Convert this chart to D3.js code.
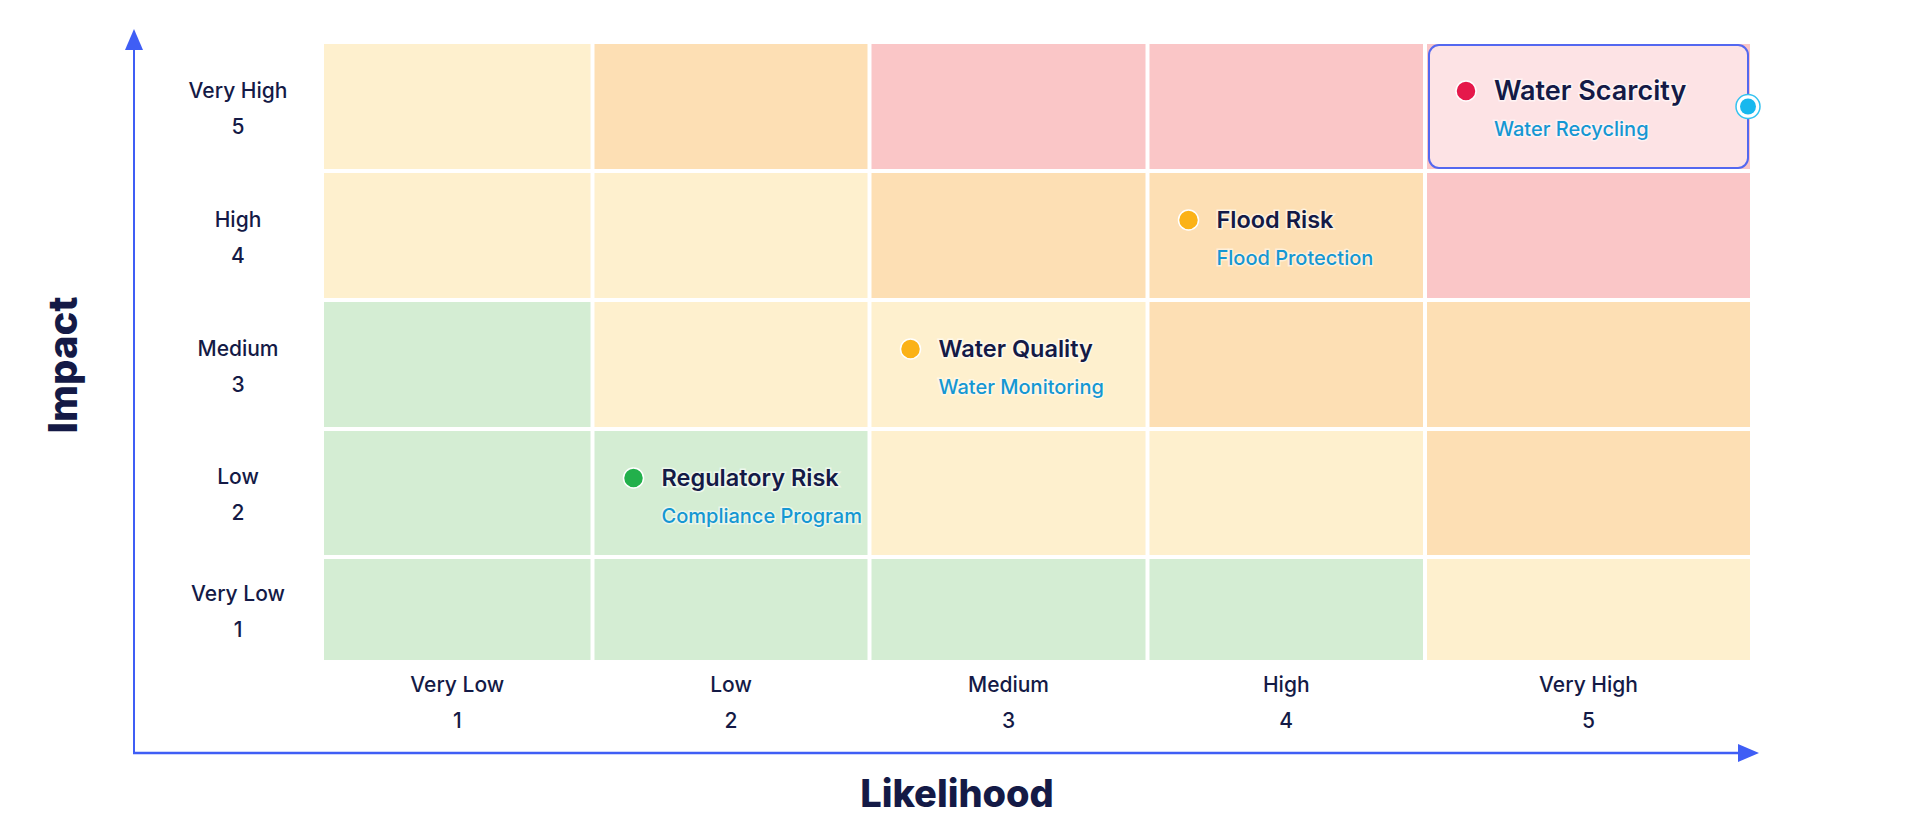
<!DOCTYPE html>
<html>
<head>
<meta charset="utf-8">
<script src="https://cdn.jsdelivr.net/npm/d3@7"></script>
<style>
  html, body { margin: 0; padding: 0; background: #ffffff; }
  svg { display: block; font-family: Inter, "Open Sans", sans-serif; }
</style>
</head>
<body>
<div id="chart"></div>
<script>
const width = 1905;
const height = 825;

// data
const levels = [1, 2, 3, 4, 5];
const likelihoodLabels = ["Very Low", "Low", "Medium", "High", "Very High"];
const impactLabels = ["Very Low", "Low", "Medium", "High", "Very High"];

// zone of each cell, rows = impact 5..1, columns = likelihood 1..5
const zoneRows = [
  ["moderate", "high", "critical", "critical", "critical"],
  ["moderate", "moderate", "high", "high", "critical"],
  ["low", "moderate", "moderate", "high", "high"],
  ["low", "low", "moderate", "moderate", "high"],
  ["low", "low", "low", "low", "moderate"]
];

const riskNames = ["Water Scarcity", "Flood Risk", "Water Quality", "Regulatory Risk"];
const riskControls = ["Water Recycling", "Flood Protection", "Water Monitoring", "Compliance Program"];
const riskLikelihood = [5, 4, 3, 2];
const riskImpact = [5, 4, 3, 2];
const riskSeverity = ["critical", "high", "high", "low"];
const selectedRisk = "Water Scarcity";

// layout
const colEdges = [322, 592.5, 869.5, 1147.5, 1425, 1752];
const rowEdges = [42, 171, 300, 429, 557, 662];
const gap = 4;

const x = d3.scaleLinear().domain([0.5, 1.5, 2.5, 3.5, 4.5, 5.5]).range(colEdges);
const y = d3.scaleLinear().domain([5.5, 4.5, 3.5, 2.5, 1.5, 0.5]).range(rowEdges);

const zoneColor = d3.scaleOrdinal()
  .domain(["low", "moderate", "high", "critical"])
  .range(["#d4edd3", "#fef0ce", "#fddfb4", "#fac6c7"]);

const dotColor = d3.scaleOrdinal()
  .domain(["low", "high", "critical"])
  .range(["#22b04b", "#fbb217", "#e5194b"]);

const navy = "#141a46";
const axisBlue = "#3f5ef5";

const svg = d3.select("#chart").append("svg")
  .attr("width", width).attr("height", height);

// cells
const cells = [];
zoneRows.forEach((row, i) => {
  row.forEach((zone, j) => {
    cells.push({impact: 5 - i, likelihood: j + 1, zone: zone});
  });
});

svg.append("g").selectAll("rect").data(cells).enter()
  .append("rect")
  .attr("x", (d) => x(d.likelihood - 0.5) + gap / 2)
  .attr("y", (d) => y(d.impact + 0.5) + gap / 2)
  .attr("width", (d) => x(d.likelihood + 0.5) - x(d.likelihood - 0.5) - gap)
  .attr("height", (d) => y(d.impact - 0.5) - y(d.impact + 0.5) - gap)
  .attr("fill", (d) => zoneColor(d.zone));

// axis lines with arrows
const originX = 134;
const originY = 753;

svg.append("line")
  .attr("x1", originX).attr("y1", originY)
  .attr("x2", originX).attr("y2", 48)
  .attr("stroke", axisBlue).attr("stroke-width", 2);
svg.append("path")
  .attr("d", `M${originX - 9},${50} L${originX},${29} L${originX + 9},${50} Z`)
  .attr("fill", axisBlue);

svg.append("line")
  .attr("x1", originX - 1).attr("y1", originY)
  .attr("x2", 1740).attr("y2", originY)
  .attr("stroke", axisBlue).attr("stroke-width", 2.5);
svg.append("path")
  .attr("d", `M${1738},${originY - 9} L${1759},${originY} L${1738},${originY + 9} Z`)
  .attr("fill", axisBlue);

// tick labels
const tickSize = 21;
const xTicks = svg.append("g").selectAll("g").data(levels).enter()
  .append("g")
  .attr("transform", (d) => `translate(${x(d)},0)`);
xTicks.append("text")
  .attr("y", 685).attr("dy", "0.35em")
  .attr("text-anchor", "middle")
  .attr("font-size", tickSize).attr("font-weight", 500).attr("fill", navy)
  .text((d) => likelihoodLabels[d - 1]);
xTicks.append("text")
  .attr("y", 721).attr("dy", "0.35em")
  .attr("text-anchor", "middle")
  .attr("font-size", tickSize).attr("font-weight", 500).attr("fill", navy)
  .text((d) => d);

const yTicks = svg.append("g").selectAll("g").data(levels).enter()
  .append("g")
  .attr("transform", (d) => `translate(238,${y(d)})`);
yTicks.append("text")
  .attr("y", -16).attr("dy", "0.35em")
  .attr("text-anchor", "middle")
  .attr("font-size", tickSize).attr("font-weight", 500).attr("fill", navy)
  .text((d) => impactLabels[d - 1]);
yTicks.append("text")
  .attr("y", 20).attr("dy", "0.35em")
  .attr("text-anchor", "middle")
  .attr("font-size", tickSize).attr("font-weight", 500).attr("fill", navy)
  .text((d) => d);

// axis titles
svg.append("text")
  .attr("x", 957).attr("y", 794).attr("dy", "0.35em")
  .attr("text-anchor", "middle")
  .attr("font-size", 38).attr("font-weight", 800).attr("fill", navy)
  .text("Likelihood");
svg.append("text")
  .attr("transform", "translate(63,365) rotate(-90)")
  .attr("dy", "0.35em")
  .attr("text-anchor", "middle")
  .attr("font-size", 40).attr("font-weight", 800).attr("fill", navy)
  .text("Impact");

// risks
const risks = riskNames.map((name, i) => ({
  name: name,
  control: riskControls[i],
  likelihood: riskLikelihood[i],
  impact: riskImpact[i],
  severity: riskSeverity[i],
  selected: name === selectedRisk
}));

// highlight box for selected risk
const sel = risks.filter((d) => d.selected);
svg.append("g").selectAll("rect").data(sel).enter()
  .append("rect")
  .attr("x", (d) => x(d.likelihood - 0.5) + gap / 2 + 2)
  .attr("y", (d) => y(d.impact + 0.5) + gap / 2 + 1)
  .attr("width", (d) => x(d.likelihood + 0.5) - x(d.likelihood - 0.5) - gap - 4)
  .attr("height", (d) => y(d.impact - 0.5) - y(d.impact + 0.5) - gap - 2)
  .attr("rx", 10)
  .attr("fill", "#fde3e5")
  .attr("stroke", "#5468f0")
  .attr("stroke-width", 2);

const riskG = svg.append("g").selectAll("g").data(risks).enter()
  .append("g")
  .attr("transform", (d) => `translate(${x(d.likelihood - 0.5) + 41},${y(d.impact + 0.5) + 49})`);

riskG.append("circle")
  .attr("r", 10)
  .attr("fill", (d) => dotColor(d.severity))
  .attr("stroke", "#ffffff").attr("stroke-width", 1.5);

riskG.append("text")
  .attr("x", 28).attr("dy", "0.35em")
  .attr("font-size", (d) => d.selected ? 27 : 23.5)
  .attr("font-weight", 600).attr("fill", navy)
  .attr("stroke", "rgba(255,255,255,0.6)").attr("stroke-width", 3)
  .attr("paint-order", "stroke")
  .text((d) => d.name);

riskG.append("text")
  .attr("x", 28).attr("y", 38).attr("dy", "0.35em")
  .attr("font-size", 20).attr("font-weight", 500).attr("fill", "#1597d3")
  .attr("stroke", "rgba(255,255,255,0.5)").attr("stroke-width", 3)
  .attr("paint-order", "stroke")
  .text((d) => d.control);

// handle on the selected box
const handle = svg.append("g").selectAll("g").data(sel).enter()
  .append("g")
  .attr("transform", (d) => `translate(${x(d.likelihood + 0.5) - gap / 2 - 2},${y(d.impact)})`);
handle.append("circle")
  .attr("r", 12).attr("fill", "#ffffff")
  .attr("stroke", "#35c3f0").attr("stroke-width", 1.5);
handle.append("circle")
  .attr("r", 8).attr("fill", "#18b8ee");
</script>
</body>
</html>
